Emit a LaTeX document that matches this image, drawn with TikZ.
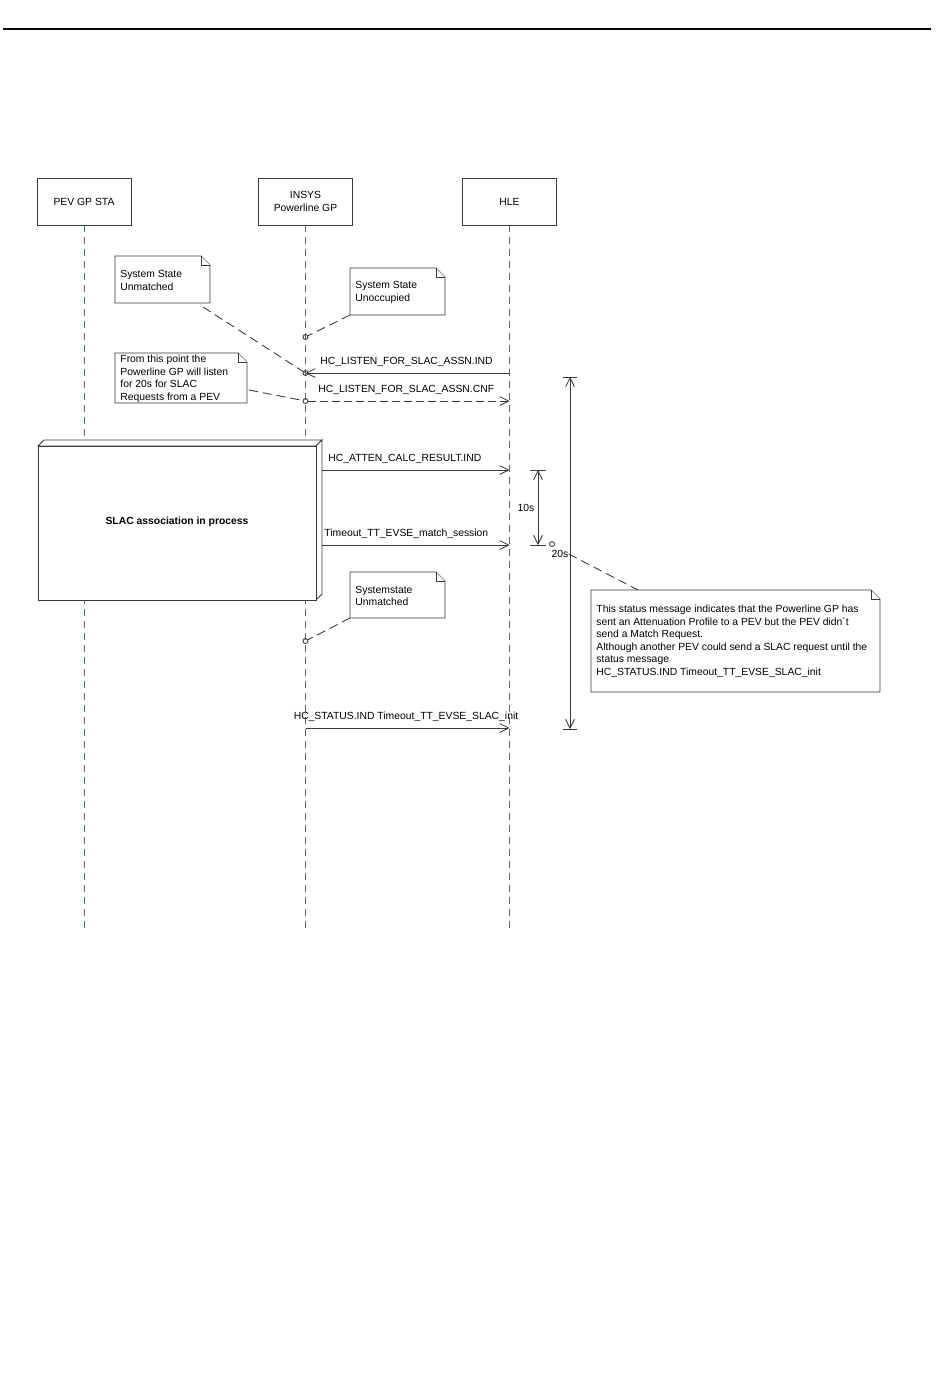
\documentclass[tikz,border=0pt]{standalone}
\usepackage{fontspec}
\setmainfont{Liberation Sans}
\usetikzlibrary{arrows.meta}
\definecolor{llcolor}{HTML}{4A7068}
\definecolor{msgline}{HTML}{3A3A3A}

% note with folded corner: x1, y1, x2, y2
\newcommand{\foldnote}[4]{%
  \draw[noteline] (#1,#2) -- ({#3-9},#2) -- (#3,{#2+9}) -- (#3,#4) -- (#1,#4) -- cycle;
  \draw[noteline] ({#3-9},#2) -- ({#3-9},{#2+9}) -- (#3,{#2+9});}

\begin{document}
\begin{tikzpicture}[x=0.02cm, y=-0.02cm, line width=0.5pt,
    every node/.style={font=\fontsize{5.9}{7.1}\selectfont, inner sep=0pt},
    headbox/.style={draw=msgline, minimum width=1.88cm, minimum height=0.94cm, align=center},
    lifeline/.style={llcolor, dash pattern=on 0.14cm off 0.1cm},
    msg/.style={msgline, -{Straight Barb[length=5pt, width=5pt]}},
    reply/.style={msg, dash pattern=on 0.16cm off 0.08cm},
    noteline/.style={msgline, fill=white},
    notetext/.style={anchor=north west, align=left},
    notelink/.style={msgline, dash pattern=on 0.18cm off 0.1cm},
    pincirc/.style={circle, draw=msgline, minimum size=0.1cm},
    span/.style={msgline, {Straight Barb[length=5pt, width=5pt]}-{Straight Barb[length=5pt, width=5pt]}}]
    \useasboundingbox (0,0) rectangle (950,1397);
    \draw[line width=1pt] (3,29) -- (931,29);

    % lifelines
    \node[headbox] (pev) at (84,201.5) {PEV GP STA};
    \node[headbox] (insys) at (305.5,201.5) {INSYS\\Powerline GP};
    \node[headbox] (hle) at (509.5,201.5) {HLE};
    \coordinate (bottom) at (0,928);
    \foreach \ll in {pev,insys,hle}
      \draw[lifeline] (\ll.south) -- (\ll.south |- bottom);

    % notes at the top
    \foldnote{115}{256}{210}{303}
    \node[notetext] (stunmatched) at (120,270) {System State\\Unmatched};
    \coordinate (stunmatchedtip) at (203,307);
    \foldnote{350}{268}{445}{315}
    \node[notetext] (stunoccupied) at (355,281) {System State\\Unoccupied};
    \coordinate (stunoccupiedtip) at (350,315);
    \foldnote{115}{353}{247}{403}
    \node[notetext] (listennote) at (120,355) {From this point the\\Powerline GP will listen\\for 20s for SLAC\\Requests from a PEV};
    \coordinate (listentip) at (249,390);

    \node[pincirc] (p1) at (305.5,337) {};
    \node[pincirc] (p2) at (305.5,373) {};
    \node[pincirc] (p3) at (305.5,401) {};
    \draw[notelink] (stunoccupiedtip) -- (p1);
    \draw[notelink] (stunmatchedtip) -- (p2.center);
    \draw[notelink] (listentip) -- (p3);

    % listen messages
    \coordinate (indstart) at (509.5,373);
    \draw[msg] (indstart) -- (p2.center);
    \node[anchor=west] (indlabel) at (320,362) {HC\_LISTEN\_FOR\_SLAC\_ASSN.IND};
    \coordinate (cnfend) at (509.5,401);
    \draw[reply] (p3) -- (cnfend);
    \node[anchor=west] (cnflabel) at (318,389.5) {HC\_LISTEN\_FOR\_SLAC\_ASSN.CNF};

    % SLAC block
    \draw[msgline, fill=white] (38,446) -- (44,440) -- (322,440) -- (316,446) -- cycle;
    \draw[msgline, fill=white] (316,446) -- (322,440) -- (322,594) -- (316,600) -- cycle;
    \draw[msgline, fill=white] (38,446) rectangle (316,600);
    \node[font=\fontsize{5.9}{7.1}\selectfont\bfseries] (slac) at (177,522) {SLAC association in process};

    \coordinate (attenA) at (322,470);
    \coordinate (attenB) at (509.5,470);
    \draw[msg] (attenA) -- (attenB);
    \node[anchor=west] (attenlabel) at (328,458.5) {HC\_ATTEN\_CALC\_RESULT.IND};
    \coordinate (matchA) at (322,545);
    \coordinate (matchB) at (509.5,545);
    \draw[msg] (matchA) -- (matchB);
    \node[anchor=west] (matchlabel) at (324,533.5) {Timeout\_TT\_EVSE\_match\_session};

    % timers
    \coordinate (tentop) at (538,470);
    \coordinate (tenbot) at (538,545);
    \draw[span] (tentop) -- (tenbot);
    \draw[msgline] ([xshift=-0.16cm]tentop) -- ([xshift=0.16cm]tentop);
    \draw[msgline] ([xshift=-0.16cm]tenbot) -- ([xshift=0.16cm]tenbot);
    \node (tenlabel) at (526,508) {10s};
    \coordinate (twtop) at (570,377);
    \coordinate (twbot) at (570,729);
    \draw[span] (twtop) -- (twbot);
    \draw[msgline] ([xshift=-0.14cm]twtop) -- ([xshift=0.14cm]twtop);
    \draw[msgline] ([xshift=-0.14cm]twbot) -- ([xshift=0.14cm]twbot);
    \node[pincirc] (p5) at (552,544) {};
    \node (twlabel) at (560,554) {20s};

    % lower notes
    \foldnote{350}{572}{445}{618}
    \node[notetext] (sysunmatched) at (355,585.5) {Systemstate\\Unmatched};
    \coordinate (sysunmatchedtip) at (350,618);
    \node[pincirc] (p4) at (305.5,641) {};
    \draw[notelink] (sysunmatchedtip) -- (p4);

    \foldnote{591}{590}{880}{692}
    \node[notetext] (statusnote) at (596,605) {This status message indicates that the Powerline GP has\\sent an Attenuation Profile to a PEV but the PEV didn´t\\send a Match Request.\\Although another PEV could send a SLAC request until the\\status message\\HC\_STATUS.IND Timeout\_TT\_EVSE\_SLAC\_init};
    \coordinate (statustip) at (638,590);
    \draw[notelink] (twlabel.east) -- (statustip);

    % status message
    \coordinate (statusA) at (305.5,728);
    \coordinate (statusB) at (509.5,728);
    \draw[msg] (statusA) -- (statusB);
    \node (statuslabel) at (406,717) {HC\_STATUS.IND Timeout\_TT\_EVSE\_SLAC\_init};
\end{tikzpicture}
\end{document}
